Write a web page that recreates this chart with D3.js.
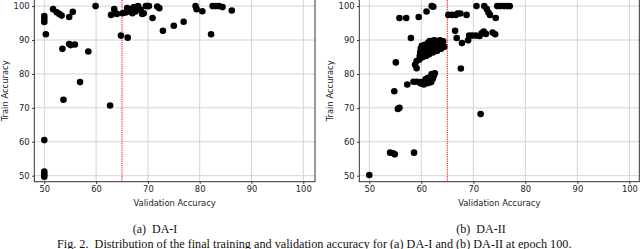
<!DOCTYPE html>
<html lang="en">
<head>
<meta charset="UTF-8">
<title>DA accuracy scatter</title>
<script src="https://d3js.org/d3.v7.min.js"></script>
<style>
  body { margin: 0; background: #fff; }
  .tick text { font-family: "DejaVu Sans", sans-serif; font-size: 8.4px; fill: #222; }
  .axis-title { font-family: "DejaVu Sans", sans-serif; font-size: 8.4px; fill: #222; }
  .caption { font-family: "Liberation Serif", "Times New Roman", serif; fill: #111; }
</style>
</head>
<body>
<svg id="chart" width="640" height="249"></svg>
<script>
// [validation accuracy, train accuracy]
const daI = [
  [50, 97.1], [50, 96.2], [50, 95.3], [50.3, 91.7], [50, 60.5], [50, 51.2], [50, 50.4], [50, 49.7],
  [51.7, 99.1], [52.4, 98.2], [52.9, 97.7], [53.35, 97.2], [53.5, 87.4], [53.7, 72.4],
  [54.8, 96.8], [55.5, 98.3], [54.8, 88.8], [55.1, 88.5], [55.9, 88.7], [56.9, 77.6],
  [58.5, 86.6], [59.9, 100], [62.7, 70.7], [62.9, 97.4], [63.5, 99.1], [64, 97.7],
  [64.8, 91.3], [65.1, 97.9], [65.7, 98.1], [66.1, 90.7], [66, 99.4], [66.4, 98.4],
  [66.8, 99.1], [67, 97.9], [67.3, 99.7], [67.6, 98.4], [68.1, 100], [68.6, 98.9],
  [68.9, 97.7], [69.2, 97.9], [69.6, 100], [69.9, 100], [70.2, 100], [70.9, 96.5],
  [71.8, 99.9], [72.2, 99.4], [72.9, 92.7], [75, 94.2], [76.9, 95.4], [79.2, 100],
  [79.4, 99.1], [80.5, 98.5], [82.2, 91.7], [82.5, 100], [83.1, 100], [83.7, 100],
  [84.4, 99.7], [86.2, 98.7]
];

const daII = [
  [50, 50.2], [54, 56.8], [54.6, 56.6], [54.9, 56.3], [58.6, 56.8],
  [55.5, 69.7], [55.8, 70], [54.8, 74.9], [55.1, 83.4], [55.8, 96.5], [57.1, 96.5],
  [57.3, 76.9], [58, 90.6], [58.5, 77.7], [59.1, 77.7], [58.8, 82.7], [59.1, 81.7],
  [59.1, 83.8], [59.5, 96.8], [61, 98.4], [62, 100], [62.3, 99.8],
  // upper dense band
  [59.6, 84.2], [59.7, 85.3], [59.8, 86.4], [59.9, 87.5], [60.1, 88.3], [60.2, 84.9],
  [60.4, 86], [60.5, 87.2], [60.7, 88.6], [60.9, 85.3], [61, 86.5], [61.2, 87.8],
  [61.3, 89.2], [61.5, 85.8], [61.7, 87.1], [61.9, 88.4], [62, 89.6], [62.2, 86.3],
  [62.4, 87.5], [62.6, 88.8], [62.8, 89.8], [63, 86.8], [63.2, 88], [63.4, 89.2],
  [63.6, 89.9], [63.8, 87.4], [64, 88.5], [64.2, 89.6], [64.4, 88], [61.6, 89.7], [62.4, 89.9],
  // lower dense band
  [59.75, 77.6], [59.9, 77.2], [60.3, 77.5], [60.6, 77.1], [61, 77.8], [61.3, 77.3],
  [61.6, 78.2], [61.9, 77.6], [62.2, 78.6], [62.4, 79.5], [62.6, 80.2], [61.8, 79.2],
  [61.2, 78.8], [60.8, 78.4], [62, 80], [60.5, 76.9],
  // right of threshold
  [65.2, 97.4], [65.9, 97.4], [66.6, 97.4], [67, 97.8], [67.5, 97.8], [68.7, 97.4],
  [66.5, 92.7], [66.8, 90.6], [67.8, 89.1], [67.6, 81.6], [69, 89.9],
  [69.2, 91.3], [69.8, 91.3], [70.5, 91.3], [70.6, 100], [72.1, 100],
  [71.2, 91.2], [71.6, 92], [72, 92.5], [72.4, 91.8], [71.4, 68.2],
  [72.6, 99.1], [72.9, 98.1], [73.2, 97.4], [74.3, 96.5], [73.7, 92.2], [74.2, 91.7],
  [74.6, 100], [75.2, 100], [75.9, 100], [76.5, 100], [77, 100]
];

const ticks = [50, 60, 70, 80, 90, 100];
const threshold = 65;
const panels = [
  { data: daI, label: "(a)  DA-I", x0: 34.3, x1: 315, xMin: 48.07, xMax: 102.26, yTitleX: 5, capX: 155 },
  { data: daII, label: "(b)  DA-II", x0: 359.3, x1: 639.3, xMin: 48.08, xMax: 101.9, yTitleX: 330, capX: 481 }
];

const svg = d3.select("#chart");
const yTop = 0, yBottom = 181.7;

panels.forEach(p => {
  const x = d3.scaleLinear().domain([p.xMin, p.xMax]).range([p.x0, p.x1]);
  const y = d3.scaleLinear().domain([48.23, 101.8]).range([yBottom, yTop]);
  const g = svg.append("g");

  // grid
  g.append("g").selectAll("line").data(ticks).enter().append("line")
    .attr("x1", d => x(d)).attr("x2", d => x(d))
    .attr("y1", yTop).attr("y2", yBottom)
    .attr("stroke", "#d4d4d4").attr("stroke-width", 1);
  g.append("g").selectAll("line").data(ticks).enter().append("line")
    .attr("x1", p.x0).attr("x2", p.x1)
    .attr("y1", d => y(d)).attr("y2", d => y(d))
    .attr("stroke", "#d4d4d4").attr("stroke-width", 1);

  // threshold line
  g.append("line")
    .attr("x1", x(threshold)).attr("x2", x(threshold))
    .attr("y1", yTop).attr("y2", yBottom)
    .attr("stroke", "#f00").attr("stroke-width", 1)
    .attr("stroke-dasharray", "1.2,1");

  // points
  g.append("g").selectAll("circle").data(p.data).enter().append("circle")
    .attr("cx", d => x(d[0])).attr("cy", d => y(d[1]))
    .attr("r", 3.3).attr("fill", "#000");

  // frame
  g.append("rect")
    .attr("x", p.x0).attr("y", yTop - 1)
    .attr("width", p.x1 - p.x0).attr("height", yBottom - yTop + 1)
    .attr("fill", "none").attr("stroke", "#333").attr("stroke-width", 1);

  // axes
  const xAxis = d3.axisBottom(x).tickValues(ticks).tickSize(2.2).tickPadding(2.5);
  const yAxis = d3.axisLeft(y).tickValues(ticks).tickSize(2.2).tickPadding(2.5);
  g.append("g").attr("transform", `translate(0,${yBottom})`).call(xAxis)
    .call(a => a.select(".domain").remove())
    .call(a => a.selectAll(".tick line").attr("stroke", "#333"));
  g.append("g").attr("transform", `translate(${p.x0},0)`).call(yAxis)
    .call(a => a.select(".domain").remove())
    .call(a => a.selectAll(".tick line").attr("stroke", "#333"));

  // titles
  g.append("text").attr("class", "axis-title")
    .attr("x", (p.x0 + p.x1) / 2).attr("y", 206)
    .attr("text-anchor", "middle").text("Validation Accuracy");
  g.append("text").attr("class", "axis-title")
    .attr("transform", `translate(${p.yTitleX + 3},${(yTop + yBottom) / 2}) rotate(-90)`)
    .attr("text-anchor", "middle").text("Train Accuracy");

  g.append("text").attr("class", "caption")
    .attr("x", p.capX).attr("y", 233)
    .attr("text-anchor", "middle").attr("font-size", "12px")
    .attr("xml:space", "preserve")
    .text(p.label);
});

svg.append("text").attr("class", "caption")
  .attr("x", 57).attr("y", 247.5)
  .attr("font-size", "12.2px")
  .attr("xml:space", "preserve")
  .text("Fig. 2.  Distribution of the final training and validation accuracy for (a) DA-I and (b) DA-II at epoch 100.");
</script>
</body>
</html>
